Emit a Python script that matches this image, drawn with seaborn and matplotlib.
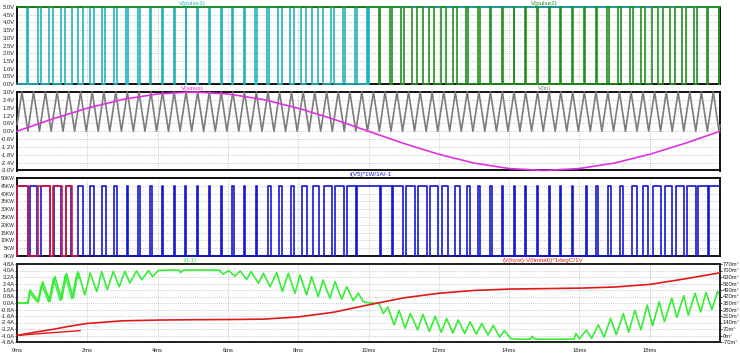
import matplotlib
matplotlib.use("Agg")
import matplotlib.pyplot as plt
import seaborn as sns

# all times in ms

# V(pulse1): high windows during the positive half wave, then 5 V to the end
p1_on = [0.291, 0.607, 0.923, 1.241, 1.558, 1.876, 2.197, 2.517, 2.839, 3.164,
         3.489, 3.818, 4.152, 4.485, 4.818, 5.152, 5.485, 5.818, 6.154, 6.495,
         6.838, 7.182, 7.528, 7.874, 8.223, 8.571, 8.920, 9.271, 9.621, 9.968, 10.0]
p1_off = [0.323, 0.674, 1.023, 1.374, 1.722, 2.070, 2.418, 2.763, 3.107, 3.451,
          3.792, 4.128, 4.462, 4.795, 5.128, 5.462, 5.795, 6.128, 6.460, 6.785,
          7.109, 7.432, 7.753, 8.072, 8.392, 8.709, 9.026, 9.343, 9.659, 9.978, 20.0]

# V(pulse2): 5 V, with low windows during the negative half wave
p2_low_on = [10.291, 10.607, 10.923, 11.241, 11.558, 11.876, 12.197, 12.517, 12.839, 13.164,
             13.489, 13.818, 14.152, 14.485, 14.818, 15.152, 15.485, 15.818, 16.154, 16.495,
             16.838, 17.182, 17.528, 17.874, 18.223, 18.571, 18.920, 19.271, 19.621, 19.968]
p2_low_off = [10.323, 10.674, 11.023, 11.374, 11.722, 12.070, 12.418, 12.763, 13.107, 13.451,
              13.792, 14.128, 14.462, 14.795, 15.128, 15.462, 15.795, 16.128, 16.460, 16.785,
              17.109, 17.432, 17.753, 18.072, 18.392, 18.709, 19.026, 19.343, 19.659, 19.978]

# V(sinus)
sin_t = list(range(0, 21))
sin_v = [0.0, 0.93, 1.76, 2.43, 2.85, 3.0, 2.85, 2.43, 1.76, 0.93, 0.0,
         -0.93, -1.76, -2.43, -2.85, -3.0, -2.85, -2.43, -1.76, -0.93, 0.0]

# V(tri): carrier vertices (peaks at 3.0 V, troughs at 0.0 V)
tri_peaks = [0.14, 0.47, 0.81, 1.14, 1.47, 1.81, 2.14, 2.47, 2.81, 3.14,
             3.47, 3.81, 4.14, 4.47, 4.81, 5.14, 5.47, 5.81, 6.14, 6.47,
             6.81, 7.14, 7.47, 7.81, 8.14, 8.47, 8.81, 9.14, 9.47, 9.81,
             10.14, 10.47, 10.81, 11.14, 11.47, 11.81, 12.14, 12.47, 12.81, 13.14,
             13.47, 13.81, 14.14, 14.47, 14.81, 15.14, 15.47, 15.81, 16.14, 16.47,
             16.81, 17.14, 17.47, 17.81, 18.14, 18.47, 18.81, 19.14, 19.47, 19.81]
tri_troughs = [0.31, 0.64, 0.97, 1.31, 1.64, 1.97, 2.31, 2.64, 2.97, 3.31,
               3.64, 3.97, 4.31, 4.64, 4.97, 5.31, 5.64, 5.97, 6.31, 6.64,
               6.97, 7.31, 7.64, 7.97, 8.31, 8.64, 8.97, 9.31, 9.64, 9.97,
               10.31, 10.64, 10.97, 11.31, 11.64, 11.97, 12.31, 12.64, 12.97, 13.31,
               13.64, 13.97, 14.31, 14.64, 14.97, 15.31, 15.64, 15.97, 16.31, 16.64,
               16.97, 17.31, 17.64, 17.97, 18.31, 18.64, 18.97, 19.31, 19.64, 19.97]

# I(V5)*1W/1A/-1 pulses (kW)
pw_on = [0.0, 0.36, 0.68, 1.04, 1.39, 1.74, 2.09, 2.43, 2.77, 3.12,
         3.45, 3.79, 4.13, 4.46, 4.79, 5.13, 5.46, 5.79, 6.13, 6.46,
         6.80, 7.15, 7.46, 7.79, 8.10, 8.41, 8.73, 9.05, 9.38, 9.66,
         10.35, 10.71, 11.06, 11.42, 11.75, 12.08, 12.46, 12.79, 13.12, 13.46,
         13.79, 14.13, 14.46, 14.79, 15.13, 15.46, 15.79, 16.18, 16.48, 16.81,
         17.15, 17.49, 17.80, 18.10, 18.44, 18.74, 19.07, 19.38, 19.70]
pw_off = [0.30, 0.58, 0.93, 1.25, 1.55, 1.88, 2.20, 2.52, 2.84, 3.17,
          3.49, 3.83, 4.16, 4.49, 4.82, 5.16, 5.49, 5.82, 6.16, 6.49,
          6.83, 7.22, 7.55, 7.89, 8.24, 8.60, 8.95, 9.30, 9.64, 10.33,
          10.66, 10.99, 11.32, 11.66, 11.99, 12.27, 12.60, 12.89, 13.17, 13.50,
          13.82, 14.16, 14.49, 14.82, 15.16, 15.49, 15.82, 16.22, 16.53, 16.89,
          17.25, 17.63, 17.96, 18.31, 18.63, 18.98, 19.32, 19.67, 20.0]
pw_level = 45
# older run, stops at 1.74 ms
pw2_on = [0.0, 0.61, 1.03, 1.39]
pw2_off = [0.32, 0.94, 1.27, 1.56]
pw2_end = 1.74

# I(L1) in A
il_t = [0, 0.32, 0.37, 0.61, 0.73, 0.94, 1.08, 1.27, 1.41, 1.6, 1.74, 1.93, 2.08, 2.27,
        2.41, 2.57, 2.74, 2.91, 3.07, 3.21, 3.4, 3.55, 3.74, 3.86, 4.02, 4.3, 4.6, 4.65,
        4.75, 5.75, 5.87, 6.02, 6.2, 6.35, 6.53, 6.66, 6.87, 7.01, 7.2, 7.39, 7.55, 7.72,
        7.91, 8.05, 8.24, 8.38, 8.57, 8.71, 8.9, 9.05, 9.24, 9.38, 9.57, 9.71, 9.85, 10.04,
        10.3, 10.42, 10.55, 10.73, 10.87, 11.04, 11.19, 11.4, 11.55, 11.73, 11.9, 12.07,
        12.22, 12.4, 12.55, 12.74, 12.89, 13.07, 13.22, 13.4, 13.55, 13.73, 13.87, 14.05,
        14.2, 14.6, 14.65, 14.75, 15.85, 15.9, 16.0, 16.2, 16.35, 16.54, 16.7, 16.89,
        17.05, 17.25, 17.4, 17.58, 17.75, 17.93, 18.08, 18.27, 18.42, 18.63, 18.77,
        18.97, 19.1, 19.29, 19.45, 19.6, 19.77, 19.93, 20.0]
il_v = [0.0, 0.0, 1.6, 0.16, 2.6, 0.2, 3.25, 0.4, 3.65, 0.6, 3.85, 1.0, 3.7, 1.4,
        3.85, 1.65, 3.9, 2.0, 3.9, 2.45, 3.95, 2.85, 4.0, 3.25, 4.0, 4.05, 4.05, 3.75,
        4.05, 4.05, 3.55, 4.0, 3.3, 3.95, 2.9, 3.87, 2.43, 3.67, 2.0, 3.75, 1.4, 3.67,
        1.2, 3.46, 1.0, 3.25, 0.78, 2.84, 0.58, 2.63, 0.46, 2.0, 0.28, 1.2, 0.16, 0.0,
        -0.05, -1.3, -0.5, -2.7, -0.9, -3.1, -1.3, -3.3, -1.4, -3.5, -1.65, -3.6,
        -1.9, -3.7, -2.1, -3.75, -2.3, -3.85, -2.5, -3.95, -2.75, -4.2, -3.4, -4.4,
        -4.45, -4.45, -4.1, -4.45, -4.45, -3.75, -4.4, -3.35, -4.35, -2.7, -4.2, -1.9,
        -3.9, -1.3, -3.6, -0.9, -3.3, -0.25, -2.8, 0.15, -2.3, 0.6, -1.8,
        0.9, -1.5, 1.2, -1.1, 1.3, -0.8, 1.4, 1.0]
il2_t = [0, 0.3, 0.35, 0.58, 0.7, 0.9, 1.04, 1.23, 1.37, 1.56, 1.7, 1.75]
il2_v = [0, 0, 1.3, 0.1, 2.3, 0.15, 3.0, 0.3, 3.4, 0.5, 3.6, 3.0]

# (V(hyst)-V(limital))*1degC/1V in m-degC
temp_t = [0, 0.5, 1, 1.5, 2, 3, 4, 5, 6, 7, 8, 9, 10, 11, 12, 13, 14, 15, 16, 17, 18, 19, 20]
temp_v = [0, 35, 65, 100, 130, 158, 166, 170, 172, 176, 200, 250, 330, 405, 455, 485,
          500, 505, 510, 522, 550, 610, 675]
temp2_t = [0, 0.9, 1.8]
temp2_v = [0, 28, 52]


def windows(on, off, base, level, t_end=20.0):
    t, v = [0.0], [base]
    for a, b in zip(on, off):
        t.append(a)
        v.append(level)
        if b >= t_end:
            t.append(t_end)
            v.append(level)
        else:
            t.append(b)
            v.append(base)
    if t[-1] < t_end:
        t.append(t_end)
        v.append(base)
    return t, v


sns.set_style("white")
plt.rcParams["font.family"] = ["Liberation Sans Narrow", "Liberation Sans", "DejaVu Sans"]

W, H = 740, 353
fig = plt.figure(figsize=(W / 100, H / 100), dpi=100)
fs = 4.2
grid_kw = dict(color="#b8b8b8", linestyle=(0, (1, 1.6)), linewidth=0.6)


def panel(top, bot, yfs=fs):
    ax = fig.add_axes([17 / W, 1 - bot / H, 703 / W, (bot - top) / H])
    ax.set_xlim(0, 20)
    ax.set_xticks(range(0, 20, 2))
    ax.grid(True, **grid_kw)
    for s in ax.spines.values():
        s.set_color("black")
        s.set_linewidth(1.3)
    ax.tick_params(axis="y", labelsize=yfs, length=1.5, width=0.6, pad=0.3)
    ax.tick_params(axis="x", labelsize=fs, length=2, width=0.6, pad=2)
    ax.set_xlabel("")
    ax.set_ylabel("")
    return ax


def trace(ax, t, v, color, lw=1.2, steps=False, z=3):
    kw = dict(drawstyle="steps-post") if steps else {}
    sns.lineplot(x=t, y=v, ax=ax, color=color, linewidth=lw, estimator=None,
                 sort=False, zorder=z, clip_on=False, **kw)


# panel 1: pulses
ax1 = panel(7, 84)
t, v = windows(p1_on, p1_off, 0, 5)
trace(ax1, t, v, "#22b4bc", steps=True)
t, v = windows(p2_low_on, p2_low_off, 5, 0)
trace(ax1, t, v, "#23901f", steps=True)
ax1.set_ylim(0, 5)
yt = [i * 0.5 for i in range(11)]
ax1.set_yticks(yt)
ax1.set_yticklabels([f"{y:.1f}V" for y in yt])
ax1.set_xticklabels([])

# panel 2: sinus and carrier
ax2 = panel(92, 170.5)
tri = sorted([(p, 3.0) for p in tri_peaks] + [(q, 0.0) for q in tri_troughs])
tri_t = [0.0] + [p[0] for p in tri] + [20.0]
tri_v = [0.5] + [p[1] for p in tri] + [0.5]
trace(ax2, tri_t, tri_v, "#7c7c7c")
trace(ax2, sin_t, sin_v, "#e033e0")
ax2.set_ylim(-3, 3)
yt = [-3.0 + 0.6 * i for i in range(11)]
ax2.set_yticks(yt)
ax2.set_yticklabels([f"{y:.1f}V".replace("-0.0", "0.0") for y in yt])
ax2.set_xticklabels([])

# panel 3: power
ax3 = panel(178, 256, yfs=3.7)
t, v = windows(pw_on, pw_off, 0, pw_level)
trace(ax3, t, v, "#1616d0", steps=True)
t, v = windows(pw2_on, pw2_off, 0, pw_level, t_end=pw2_end)
trace(ax3, t, v, "#d8163c", steps=True, z=4)
ax3.set_ylim(0, 50)
yt = list(range(0, 55, 5))
ax3.set_yticks(yt)
ax3.set_yticklabels([f"{y}KW" for y in yt])
ax3.set_xticklabels([])

# panel 4: inductor current and temperature
ax4 = panel(264, 342)
trace(ax4, il_t, il_v, "#36ee36")
trace(ax4, il2_t, il2_v, "#36ee36", lw=1.0)
ax4.set_ylim(-4.8, 4.8)
yt = [-4.8 + 0.8 * i for i in range(13)]
ax4.set_yticks(yt)
ax4.set_yticklabels([f"{y:.1f}A".replace("-0.0", "0.0") for y in yt])
ax4.set_xticklabels([f"{x}ms" for x in range(0, 20, 2)])
ax4b = ax4.twinx()
trace(ax4b, temp_t, temp_v, "#e01a1a")
trace(ax4b, temp2_t, temp2_v, "#e01a1a", lw=1.0)
ax4b.set_ylim(-70, 770)
yt = list(range(-70, 771, 70))
ax4b.set_yticks(yt)
ax4b.set_yticklabels([f"{y}m°" for y in yt])
ax4b.tick_params(axis="y", labelsize=fs, length=1.5, width=0.6, pad=0.5)
ax4b.set_ylabel("")
for s in ax4b.spines.values():
    s.set_linewidth(1.3)

# trace names
names = [("V(pulse1)", 192, 3, "#22b4bc"), ("V(pulse2)", 544, 3, "#23901f"),
         ("V(sinus)", 192, 88.5, "#e033e0"), ("V(tri)", 545, 88.5, "#7c7c7c"),
         ("I(V5)*1W/1A/-1", 370, 174.5, "#1616d0"), ("I(L1)", 190, 260.5, "#36ee36"),
         ("(V(hyst)-V(limital))*1degC/1V", 543, 260.5, "#e01a1a")]
for txt, x, y, c in names:
    fig.text(x / W, 1 - y / H, txt, color=c, fontsize=fs + 0.3, ha="center", va="center")

fig.savefig("out.png", dpi=100, facecolor="white")
